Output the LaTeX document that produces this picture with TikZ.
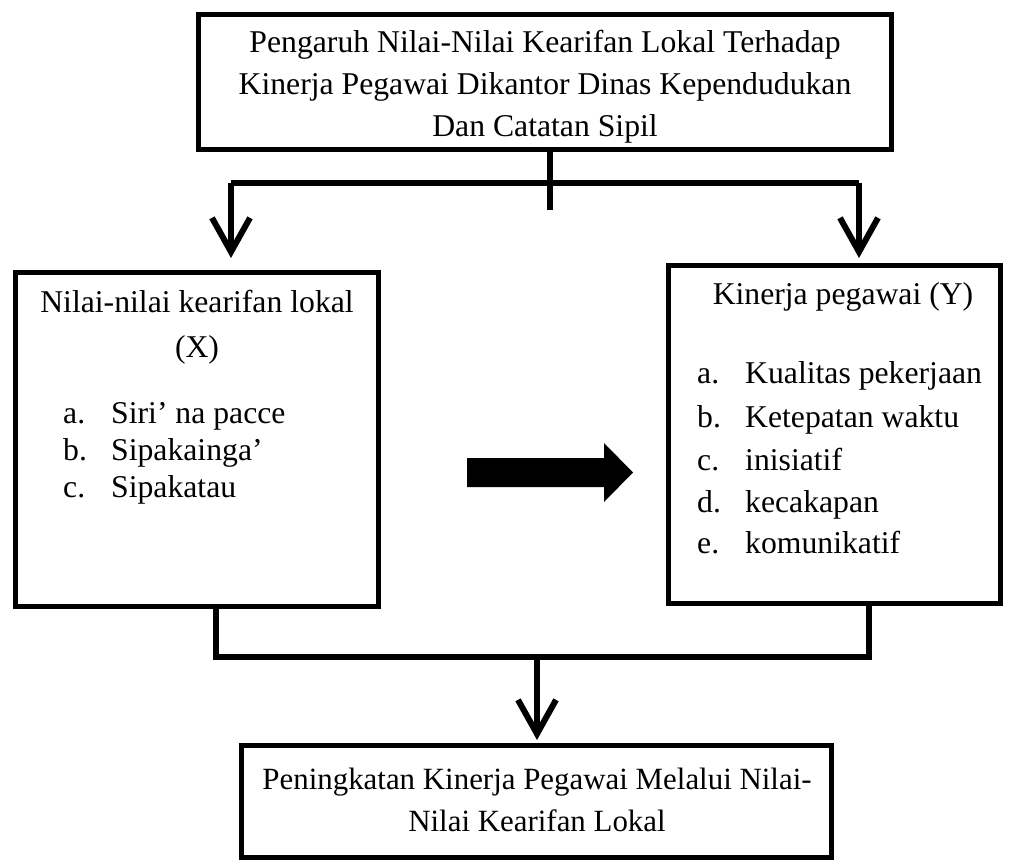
\documentclass[tikz,border=0pt]{standalone}
\usepackage{fontspec}
\setmainfont{Liberation Serif}
\usetikzlibrary{arrows.meta}
\begin{document}
\begin{tikzpicture}[x=1pt,y=-1pt,
  box/.style={draw=black, line width=5pt, inner sep=0pt, fill=white},
  conn/.style={draw=black, line width=6pt},
  arr/.style={conn, -{Straight Barb[length=34pt,width=38pt]}},
  txt/.style={font=\fontsize{31.7pt}{38pt}\selectfont, inner sep=0pt, anchor=base},
  btxt/.style={txt, font=\fontsize{30.9pt}{38pt}\selectfont},
  lab/.style={txt, anchor=base west}]
\useasboundingbox (0,0) rectangle (1014,866);
% boxes
\node[box, minimum width=693pt, minimum height=135pt] (top) at (545,82) {};
\node[box, minimum width=363pt, minimum height=334pt] (left) at (197,439.5) {};
\node[box, minimum width=332pt, minimum height=338pt] (right) at (834.5,434.5) {};
\node[box, minimum width=590pt, minimum height=112pt] (bottom) at (536.5,801.5) {};
% top text
\node[txt] (t1) at (545,53) {Pengaruh Nilai-Nilai Kearifan Lokal Terhadap};
\node[txt] (t2) at (545,95) {Kinerja Pegawai Dikantor Dinas Kependudukan};
\node[txt] (t3) at (545,137) {Dan Catatan Sipil};
% left text
\node[txt] (lt1) at (197,313) {Nilai-nilai kearifan lokal};
\node[txt] (lt2) at (197,357) {(X)};
\node[lab] (la1) at (63,423) {a.};
\node[lab] (li1) at (111,423) {Siri’ na pacce};
\node[lab] (la2) at (63,460) {b.};
\node[lab] (li2) at (111,460) {Sipakainga’};
\node[lab] (la3) at (63,497) {c.};
\node[lab] (li3) at (111,497) {Sipakatau};
% right text
\node[txt] (rt1) at (843,305) {Kinerja pegawai (Y)};
\node[lab] (ra1) at (697,383) {a.};
\node[lab] (ri1) at (745,383) {Kualitas pekerjaan};
\node[lab] (ra2) at (697,427) {b.};
\node[lab] (ri2) at (745,427) {Ketepatan waktu};
\node[lab] (ra3) at (697,470) {c.};
\node[lab] (ri3) at (745,470) {inisiatif};
\node[lab] (ra4) at (697,512) {d.};
\node[lab] (ri4) at (745,512) {kecakapan};
\node[lab] (ra5) at (697,553) {e.};
\node[lab] (ri5) at (745,553) {komunikatif};
% bottom text
\node[btxt] (b1) at (537,789) {Peningkatan Kinerja Pegawai Melalui Nilai-};
\node[btxt] (b2) at (537,831) {Nilai Kearifan Lokal};
% top connectors
\coordinate (stemE) at (550,210);
\coordinate (hl) at (231,183);
\coordinate (hr) at (859,183);
\draw[conn] (stemE |- top.south) -- (stemE);
\draw[conn] (hl) -- (hr);
\draw[arr, shorten >=12pt] (hl) -- (hl |- left.north);
\draw[arr, shorten >=5pt] (hr) -- (hr |- right.north);
% block arrow
\fill[black] (467,458) -- (604,458) -- (604,443) -- (633,472.5) -- (604,502) -- (604,487) -- (467,487) -- cycle;
% bottom connectors
\coordinate (bl) at (216,657);
\coordinate (br) at (869,657);
\coordinate (bm) at (537,657);
\draw[conn, line join=miter] (bl |- left.south) -- (bl) -- (br) -- (br |- right.south);
\draw[arr, shorten >=3pt] (bm) -- (bm |- bottom.north);
\end{tikzpicture}
\end{document}
